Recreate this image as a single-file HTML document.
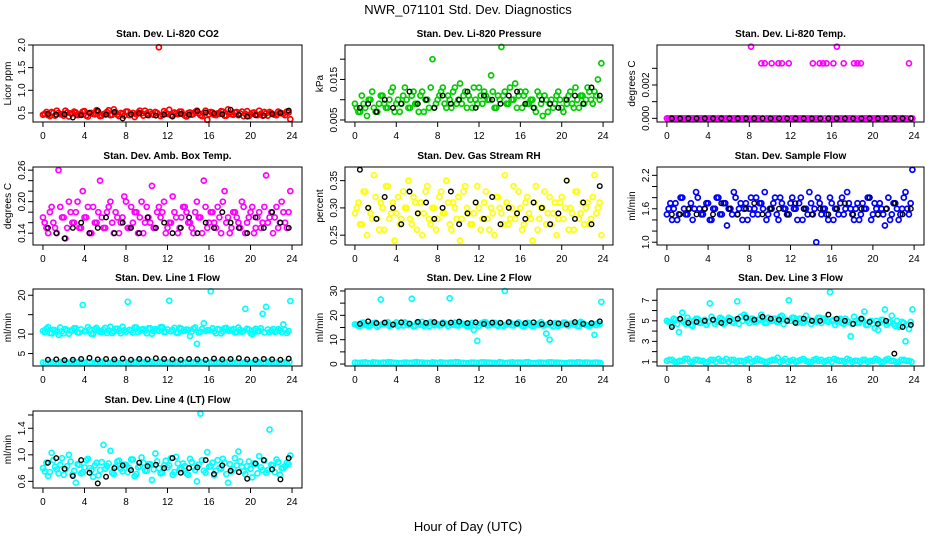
<!DOCTYPE html>
<html><head><meta charset="utf-8"><style>
html,body{margin:0;padding:0;background:#fff;}
svg{display:block;font-family:"Liberation Sans",sans-serif;}
</style></head><body>
<svg id="chart" width="936" height="540" viewBox="0 0 936 540">
<text x="468" y="14" text-anchor="middle" font-size="13">NWR_071101  Std. Dev. Diagnostics</text>
<text x="468" y="531" text-anchor="middle" font-size="13">Hour of Day (UTC)</text>
</svg>
<script>
const xTicks = [0,4,8,12,16,20,24];
const co2Main = [0.48,0.45,0.52,0.44,0.50,0.47,0.55,0.42,0.49,0.51,0.46,0.53,0.44,0.50,0.48,0.56,0.43,0.47,0.52,0.45,0.58,0.46,0.50,0.44,0.53,0.47,0.41,0.51,0.49,0.55,0.45,0.48,0.52,1.95,0.46,0.50,0.57,0.44,0.49,0.53,0.47,0.42,0.51,0.48,0.55,0.45,0.50,0.35,0.52,0.46,0.49,0.54,0.44,0.58,0.47,0.51,0.45,0.53,0.48,0.43,0.50,0.46,0.55,0.44,0.49,0.52,0.47,0.45,0.51,0.48,0.53,0.36];
const co2Band = [0.46,0.52,0.43,0.50,0.55,0.47,0.44,0.51,0.49,0.53,0.45,0.48,0.54,0.42,0.50,0.47,0.52,0.44,0.49,0.56,0.46,0.51,0.43,0.48,0.53,0.45,0.50,0.47,0.55,0.44,0.49,0.52,0.46,0.50,0.43,0.54,0.48,0.45,0.51,0.47,0.53,0.44,0.50,0.46,0.52,0.49,0.43,0.55,0.47,0.51,0.45,0.48,0.53,0.44,0.50,0.46,0.52,0.49,0.43,0.54,0.47,0.51,0.45,0.48,0.52,0.44,0.50,0.46,0.53,0.49,0.45,0.51];
const co2Black = [0.48,0.46,0.47,0.40,0.45,0.50,0.55,0.46,0.52,0.38,0.47,0.49,0.45,0.44,0.46,0.42,0.48,0.46,0.54,0.51,0.49,0.47,0.57,0.46,0.42,0.45,0.44,0.48,0.50,0.55];
const presMain = [0.008,0.007,0.009,0.006,0.010,0.008,0.007,0.011,0.009,0.008,0.012,0.007,0.010,0.009,0.013,0.008,0.011,0.009,0.007,0.012,0.010,0.008,0.020,0.009,0.011,0.013,0.008,0.010,0.012,0.009,0.014,0.011,0.008,0.010,0.013,0.009,0.011,0.012,0.010,0.016,0.008,0.011,0.023,0.012,0.009,0.010,0.014,0.011,0.008,0.012,0.009,0.010,0.007,0.011,0.006,0.010,0.009,0.008,0.011,0.010,0.007,0.009,0.012,0.008,0.010,0.011,0.009,0.013,0.010,0.012,0.015,0.019];
const presBand = [0.009,0.007,0.011,0.008,0.010,0.012,0.007,0.009,0.011,0.008,0.010,0.013,0.009,0.007,0.011,0.010,0.008,0.012,0.009,0.011,0.007,0.010,0.013,0.008,0.010,0.012,0.009,0.011,0.008,0.013,0.010,0.009,0.012,0.011,0.008,0.010,0.013,0.009,0.011,0.010,0.012,0.008,0.010,0.011,0.009,0.013,0.010,0.008,0.012,0.011,0.009,0.010,0.008,0.012,0.009,0.011,0.007,0.010,0.009,0.012,0.008,0.010,0.011,0.009,0.013,0.008,0.011,0.010,0.012,0.009,0.011,0.010];
const presBlack = [0.008,0.009,0.007,0.010,0.008,0.009,0.012,0.009,0.010,0.008,0.011,0.009,0.010,0.012,0.008,0.011,0.010,0.009,0.011,0.012,0.009,0.008,0.010,0.009,0.008,0.010,0.011,0.009,0.013,0.011];
const tempMain = [0,0,0,0,0,0,0,0,0,0,0,0,0,0,0,0,0,0,0,0,0,0,0,0,0.0043,0,0,0.0033,0.0033,0,0.0033,0,0.0033,0.0033,0,0.0033,0,0,0,0,0,0,0.0033,0,0.0033,0.0033,0.0033,0,0.0033,0.0043,0,0.0033,0,0,0.0033,0.0033,0.0033,0,0,0,0,0,0,0,0,0,0,0,0,0,0.0033,0];
const tempBand = [0,0,0,0,0,0,0,0,0,0,0,0,0,0,0,0,0,0,0,0,0,0,0,0,0,0,0,0,0,0,0,0,0,0,0,0,0,0,0,0,0,0,0,0,0,0,0,0,0,0,0,0,0,0,0,0,0,0,0,0,0,0,0,0,0,0,0,0,0,0,0,0];
const tempBlack = [0,0,0,0,0,0,0,0,0,0,0,0,0,0,0,0,0,0,0,0,0,0,0,0,0,0,0,0,0,0];
const ambMain = [0.16,0.14,0.19,0.15,0.26,0.17,0.13,0.20,0.16,0.18,0.15,0.22,0.17,0.14,0.19,0.16,0.24,0.15,0.18,0.20,0.14,0.17,0.16,0.21,0.15,0.19,0.18,0.14,0.20,0.16,0.17,0.23,0.15,0.19,0.18,0.14,0.16,0.21,0.17,0.15,0.19,0.18,0.16,0.14,0.20,0.17,0.24,0.15,0.18,0.16,0.19,0.14,0.22,0.17,0.15,0.18,0.16,0.20,0.14,0.17,0.19,0.15,0.18,0.16,0.25,0.17,0.14,0.19,0.16,0.18,0.15,0.22];
const ambBand = [0.17,0.15,0.18,0.16,0.14,0.19,0.17,0.15,0.18,0.16,0.20,0.15,0.17,0.19,0.14,0.16,0.18,0.17,0.15,0.19,0.16,0.18,0.14,0.17,0.20,0.15,0.16,0.18,0.17,0.14,0.19,0.16,0.15,0.18,0.17,0.20,0.15,0.16,0.18,0.14,0.17,0.19,0.16,0.15,0.18,0.17,0.14,0.19,0.16,0.18,0.15,0.17,0.20,0.16,0.14,0.18,0.17,0.15,0.19,0.16,0.18,0.14,0.17,0.15,0.19,0.16,0.18,0.17,0.15,0.20,0.16,0.18];
const ambBlack = [0.15,0.14,0.13,0.15,0.16,0.14,0.15,0.17,0.14,0.16,0.15,0.14,0.17,0.15,0.16,0.14,0.15,0.17,0.14,0.16,0.15,0.18,0.16,0.15,0.14,0.17,0.15,0.18,0.16,0.15];
const rhMain = [0.30,0.27,0.33,0.25,0.29,0.36,0.28,0.31,0.26,0.34,0.29,0.24,0.32,0.28,0.30,0.35,0.27,0.31,0.29,0.25,0.33,0.28,0.30,0.26,0.32,0.29,0.35,0.27,0.31,0.28,0.24,0.33,0.30,0.27,0.29,0.34,0.26,0.31,0.28,0.30,0.25,0.32,0.29,0.36,0.27,0.30,0.28,0.33,0.26,0.31,0.29,0.24,0.34,0.28,0.30,0.27,0.32,0.29,0.25,0.31,0.28,0.35,0.30,0.26,0.33,0.29,0.27,0.31,0.28,0.36,0.30,0.25];
const rhBand = [0.29,0.31,0.27,0.33,0.30,0.28,0.32,0.26,0.30,0.34,0.28,0.31,0.29,0.27,0.33,0.30,0.28,0.32,0.26,0.31,0.29,0.34,0.27,0.30,0.28,0.33,0.29,0.31,0.26,0.30,0.32,0.28,0.34,0.29,0.27,0.31,0.30,0.28,0.33,0.26,0.29,0.32,0.30,0.27,0.31,0.28,0.34,0.29,0.30,0.27,0.32,0.28,0.31,0.26,0.30,0.33,0.29,0.27,0.31,0.28,0.32,0.30,0.26,0.29,0.33,0.28,0.31,0.30,0.27,0.32,0.29,0.31];
const rhBlack = [0.37,0.30,0.28,0.32,0.30,0.27,0.33,0.29,0.31,0.28,0.30,0.33,0.27,0.29,0.31,0.28,0.32,0.27,0.30,0.29,0.28,0.31,0.30,0.27,0.29,0.35,0.28,0.31,0.27,0.34];
const flowMain = [1.6,1.4,1.7,1.5,1.8,1.5,1.6,1.4,1.9,1.6,1.5,1.7,1.4,1.6,1.8,1.5,1.7,1.3,1.6,1.9,1.5,1.7,1.6,1.4,1.8,1.6,1.5,1.7,1.9,1.5,1.6,1.8,1.4,1.7,1.6,1.5,1.8,1.6,1.7,1.4,1.6,1.9,1.5,1.0,1.7,1.6,1.5,1.8,1.4,1.6,1.7,1.5,1.9,1.6,1.4,1.7,1.5,1.6,1.8,1.4,1.7,1.5,1.6,1.3,1.8,1.5,1.7,1.4,1.6,1.9,1.5,2.3];
const flowBand = [1.5,1.7,1.6,1.4,1.8,1.6,1.5,1.7,1.6,1.8,1.5,1.6,1.7,1.4,1.6,1.8,1.5,1.7,1.6,1.5,1.8,1.6,1.4,1.7,1.6,1.5,1.8,1.7,1.6,1.4,1.6,1.7,1.5,1.8,1.6,1.5,1.7,1.6,1.4,1.8,1.6,1.5,1.7,1.6,1.8,1.5,1.6,1.4,1.7,1.6,1.5,1.8,1.6,1.7,1.5,1.6,1.4,1.7,1.6,1.8,1.5,1.6,1.7,1.5,1.6,1.4,1.7,1.6,1.5,1.8,1.6,1.7];
const flowBlack = [1.5,1.5,1.6,1.5,1.6,1.5,1.7,1.6,1.5,1.6,1.7,1.5,1.6,1.6,1.5,1.7,1.6,1.5,1.6,1.5,1.6,1.7,1.5,1.6,1.8,1.5,1.6,1.7,1.5,1.6];
const l1Main = [10.5,11.8,10.2,11.0,9.8,10.7,11.3,10.1,10.9,11.5,10.4,17.5,10.8,11.2,10.0,11.6,10.6,11.1,10.3,11.9,10.7,11.4,10.2,11.0,18.3,10.9,11.7,10.5,11.2,10.8,11.5,10.1,11.3,10.9,11.8,10.6,18.6,11.1,10.4,11.6,10.8,11.2,9.5,11.4,7.5,10.6,12.8,11.0,21.0,10.7,11.3,10.2,11.5,10.9,11.1,10.4,11.7,10.6,16.5,11.2,10.0,11.4,10.8,15.2,17.0,10.5,11.3,10.7,11.0,12.5,10.3,18.5];
const l1Band = [10.8,11.4,10.3,11.1,10.6,11.7,10.2,11.0,10.9,11.5,10.4,11.2,10.7,11.8,10.1,11.3,10.9,10.5,11.6,11.0,10.3,11.4,10.8,11.9,10.6,11.1,10.4,11.7,10.9,11.3,10.2,11.5,10.8,11.0,11.8,10.5,11.2,10.7,11.6,10.3,11.4,10.9,11.1,10.6,11.7,10.4,11.3,10.8,11.0,11.5,10.2,11.2,10.7,11.6,10.9,11.3,10.5,11.1,10.8,11.4,10.3,11.0,10.7,11.5,10.4,11.2,10.9,10.6,11.3,10.5,11.1,10.8];
const l1Low = [2.6,2.7,2.5,2.8,2.6,2.9,2.7,2.5,2.8,2.6,2.7,2.9,2.6,2.8,2.5,2.7,2.6,2.8,2.9,2.7,2.5,2.6,2.8,2.7,2.6,2.9,2.5,2.7,2.8,2.6,2.7,2.5,2.8,2.6,2.9,2.7,2.6,2.8,2.5,2.7,2.6,2.8,2.7,2.9,2.6,2.5,2.7,2.8];
const l1Low2 = [2.7,2.6,2.8,2.5,2.7,2.6,2.8,2.9,2.6,2.7,2.5,2.8,2.7,2.6,2.9,2.5,2.7,2.6,2.8,2.6,2.7,2.9,2.5,2.8,2.7,2.6,2.8,2.5,2.6,2.7,2.9,2.6,2.5,2.8,2.7,2.6,2.9,2.5,2.7,2.8,2.6,2.7,2.5,2.6,2.8,2.7,2.6,2.5];
const l1Black = [3.4,3.5,3.3,3.4,3.6,3.9,3.5,3.6,3.5,3.7,3.4,3.6,3.5,3.8,3.6,3.5,3.4,3.6,3.5,3.4,3.7,3.5,3.6,3.8,3.5,3.4,3.6,3.5,3.4,3.7];
const l2Main = [16.0,15.5,17.0,16.2,15.8,16.8,15.3,26.5,16.5,17.2,15.9,16.4,15.6,16.9,17.1,16.0,26.8,15.7,16.6,17.3,16.1,15.4,16.7,16.3,15.8,17.0,16.5,27.0,16.2,15.9,16.8,16.4,15.5,16.1,14.0,9.5,16.6,17.2,15.8,16.3,16.9,15.6,16.0,30.0,16.7,15.9,16.4,17.1,15.7,16.2,16.8,15.5,16.3,16.0,15.8,12.5,10.0,15.4,16.6,16.1,17.0,15.9,16.5,16.2,15.6,17.3,16.4,15.8,16.0,12.0,16.7,25.5];
const l2Band = [16.3,15.7,16.9,16.1,15.5,16.6,17.0,15.9,16.4,16.8,15.6,16.2,17.1,16.0,15.8,16.7,16.3,15.4,16.9,16.1,15.7,16.5,17.2,15.9,16.4,16.0,16.8,15.6,16.2,17.0,15.8,16.6,16.3,15.5,16.9,16.1,15.7,16.5,17.1,15.9,16.4,16.0,16.8,15.6,16.2,17.0,15.8,16.6,16.3,15.4,16.9,16.1,15.7,16.5,17.2,15.9,16.4,16.0,16.8,15.6,16.2,17.0,15.8,16.6,16.3,15.5,16.9,16.1,15.7,16.5,16.0,16.4];
const l2Low = [0.5,0.6,0.4,0.7,0.5,0.6,0.8,0.5,0.4,0.6,0.5,0.7,0.6,0.5,0.4,0.6,0.7,0.5,0.6,0.8,0.5,0.4,0.6,0.5,0.7,0.6,0.5,0.4,0.6,0.5,0.7,0.6,0.5,0.8,0.4,0.6,0.5,0.7,0.6,0.5,0.4,0.6,0.5,0.7,0.6,0.5,0.6,0.4];
const l2Low2 = [0.6,0.5,0.7,0.4,0.6,0.5,0.6,0.7,0.5,0.4,0.6,0.5,0.8,0.6,0.5,0.7,0.4,0.6,0.5,0.6,0.7,0.5,0.4,0.6,0.5,0.7,0.6,0.5,0.8,0.4,0.6,0.5,0.6,0.7,0.5,0.4,0.6,0.5,0.7,0.6,0.5,0.4,0.6,0.7,0.5,0.6,0.5,0.6];
const l2Black = [16.5,17.5,16.8,17.0,16.2,17.1,16.6,17.3,16.9,17.2,16.7,17.0,17.4,16.8,17.1,16.5,17.0,16.9,17.2,16.6,16.8,17.1,16.4,17.0,16.7,16.3,17.2,16.5,16.8,17.5];
const l3Main = [4.9,4.6,5.1,3.9,5.8,4.7,5.0,4.5,5.2,4.8,5.0,4.6,6.7,5.1,4.9,5.3,4.7,5.0,5.2,4.8,6.9,5.4,5.6,5.0,5.2,4.9,5.1,5.6,4.8,5.3,5.0,5.2,4.9,5.5,5.1,7.0,5.3,5.0,5.2,4.8,5.5,5.1,5.0,4.9,5.3,5.2,5.0,7.8,5.1,4.9,5.2,4.7,5.0,3.5,5.4,4.8,5.2,5.9,4.6,5.0,4.3,4.1,5.1,6.1,4.8,5.5,4.5,4.4,4.9,3.0,4.2,6.1];
const l3Band = [5.0,4.8,5.2,4.7,5.1,4.9,5.3,4.6,5.0,5.2,4.8,5.1,4.9,5.4,4.7,5.0,5.2,4.8,5.3,4.9,5.1,4.7,5.0,5.4,4.8,5.2,4.9,5.1,5.3,4.8,5.0,5.2,4.9,5.4,4.7,5.1,5.0,5.3,4.8,5.2,4.9,5.1,4.7,5.0,5.3,4.8,5.2,4.9,5.0,4.6,5.1,4.8,5.2,4.9,4.7,5.0,4.8,5.1,4.6,4.9,4.7,5.0,4.8,5.1,4.6,4.9,4.7,5.0,4.5,4.8,4.6,4.9];
const l3Low = [1.2,1.0,1.1,1.3,1.0,1.2,1.1,0.9,1.2,1.0,1.1,1.3,1.2,1.0,1.1,1.2,1.0,1.3,1.1,1.0,1.2,1.4,1.1,1.0,1.2,1.1,1.3,1.0,1.2,1.1,1.0,1.2,1.3,1.1,1.0,1.2,1.1,1.0,1.2,1.1,1.3,1.0,1.2,1.1,1.0,1.2,1.1,1.0];
const l3Low2 = [1.1,1.2,1.0,1.1,1.3,1.0,1.2,1.1,1.0,1.2,1.3,1.1,1.0,1.2,1.1,1.0,1.3,1.1,1.2,1.0,1.1,1.2,1.0,1.3,1.1,1.0,1.2,1.1,1.0,1.3,1.2,1.1,1.0,1.2,1.1,1.3,1.0,1.1,1.2,1.0,1.1,1.2,1.0,1.3,1.1,1.0,1.2,1.1];
const l3Black = [4.4,5.2,4.8,4.9,5.0,5.1,4.8,5.0,5.2,5.3,5.1,5.4,5.2,5.1,5.0,4.8,5.2,5.0,5.0,5.6,5.2,5.0,4.7,5.2,4.9,4.7,5.0,1.8,4.4,4.6];
const l4Main = [0.75,0.68,1.03,0.82,0.72,0.95,0.78,1.00,0.70,0.58,0.85,0.74,0.92,0.80,0.67,0.88,0.77,1.15,0.83,1.06,0.71,0.90,0.79,0.85,0.74,0.93,0.68,0.81,0.96,0.76,0.86,0.62,1.02,0.80,0.73,0.91,0.84,0.70,0.97,0.78,0.87,0.72,0.94,0.81,0.60,1.62,0.76,1.04,0.83,0.69,0.92,0.79,0.88,0.58,0.75,0.95,1.05,0.82,0.71,0.90,0.66,0.86,0.98,0.77,0.73,1.38,0.84,0.93,0.70,0.80,0.88,0.99];
const l4Band = [0.80,0.88,0.74,0.92,0.78,0.85,0.70,0.83,0.90,0.76,0.86,0.72,0.81,0.94,0.77,0.84,0.69,0.89,0.79,0.87,0.73,0.82,0.91,0.75,0.85,0.80,0.93,0.71,0.83,0.88,0.76,0.86,0.78,0.90,0.72,0.84,0.81,0.95,0.74,0.87,0.79,0.83,0.70,0.89,0.77,0.85,0.92,0.73,0.82,0.88,0.76,0.80,0.94,0.71,0.86,0.78,0.84,0.90,0.75,0.83,0.79,0.87,0.72,0.81,0.91,0.77,0.85,0.74,0.89,0.80,0.83,0.86];
const l4Black = [0.88,0.95,0.79,0.68,0.92,0.73,0.57,0.67,0.80,0.84,0.77,0.88,0.83,0.85,0.80,0.95,0.73,0.80,0.81,0.92,0.71,0.84,0.76,0.74,0.64,0.87,0.92,0.78,0.63,0.95];

const NS = "http://www.w3.org/2000/svg";
const svg = document.getElementById('chart');
const colX = [[33,302],[345,613],[657,924]];
const rowY = [[45,122],[167,245],[289,366],[411,488]];
function mk(tag, attrs, parent){const e=document.createElementNS(NS,tag);for(const k in attrs)e.setAttribute(k,attrs[k]);(parent||svg).appendChild(e);return e;}

const panels = [
 {slug:'co2',title:'Stan. Dev. Li-820 CO2',ylab:'Licor ppm',col:'#ff0000',ylim:[0.3,2.0],ticks:[0.5,1.0,1.5,2.0],labels:['0.5','1.0','1.5','2.0'],series:[co2Main,co2Band],black:co2Black},
 {slug:'pressure',title:'Stan. Dev. Li-820 Pressure',ylab:'kPa',col:'#00cc00',ylim:[0.0045,0.0235],ticks:[0.005,0.010,0.015,0.020],labels:['0.005','','0.015',''],series:[presMain,presBand],black:presBlack},
 {slug:'temp',title:'Stan. Dev. Li-820 Temp.',ylab:'degrees C',col:'#ff00ff',ylim:[-0.00022,0.0044],ticks:[0,0.001,0.002,0.003],labels:['0.000','','0.002',''],series:[tempMain,tempBand],black:tempBlack},
 {slug:'amb-box',title:'Stan. Dev. Amb. Box Temp.',ylab:'degrees C',col:'#ff00ff',ylim:[0.1175,0.266],ticks:[0.14,0.16,0.18,0.20,0.22,0.24,0.26],labels:['0.14','','','0.20','','','0.26'],series:[ambMain,ambBand],black:ambBlack},
 {slug:'rh',title:'Stan. Dev. Gas Stream RH',ylab:'percent',col:'#ffff00',ylim:[0.232,0.375],ticks:[0.25,0.30,0.35],labels:['0.25','0.30','0.35'],series:[rhMain,rhBand],black:rhBlack},
 {slug:'sample-flow',title:'Stan. Dev. Sample Flow',ylab:'ml/min',col:'#0000ff',ylim:[0.95,2.35],ticks:[1.0,1.2,1.4,1.6,1.8,2.0,2.2],labels:['1.0','','','1.6','','','2.2'],series:[flowMain,flowBand],black:flowBlack},
 {slug:'line1',title:'Stan. Dev. Line 1 Flow',ylab:'ml/min',col:'#00ffff',ylim:[1.8,21.6],ticks:[5,10,15,20],labels:['5','10','','20'],series:[l1Main,l1Band,l1Low,l1Low2],black:l1Black},
 {slug:'line2',title:'Stan. Dev. Line 2 Flow',ylab:'ml/min',col:'#00ffff',ylim:[-0.8,30.8],ticks:[0,5,10,15,20,25,30],labels:['0','','10','','20','','30'],series:[l2Main,l2Band,l2Low,l2Low2],black:l2Black},
 {slug:'line3',title:'Stan. Dev. Line 3 Flow',ylab:'ml/min',col:'#00ffff',ylim:[0.6,8.1],ticks:[1,2,3,4,5,6,7],labels:['1','','3','','5','','7'],series:[l3Main,l3Band,l3Low,l3Low2],black:l3Black},
 {slug:'line4',title:'Stan. Dev. Line 4 (LT) Flow',ylab:'ml/min',col:'#00ffff',ylim:[0.5,1.66],ticks:[0.6,0.8,1.0,1.2,1.4,1.6],labels:['0.6','','1.0','','1.4',''],series:[l4Main,l4Band],black:l4Black}
];

panels.forEach((p,idx)=>{
  const [x0,x1]=colX[idx%3]; const [y0,y1]=rowY[Math.floor(idx/3)];
  const g=mk('g',{});
  
  
  const xs=v=>x0+(x1-x0)*(v+0.96)/25.92;
  const ys=v=>y1-(y1-y0)*(v-p.ylim[0])/(p.ylim[1]-p.ylim[0]);
  const t=mk('text',{x:(x0+x1)/2,y:y0-8,'text-anchor':'middle','font-size':'10','font-weight':'bold'},g);
  t.textContent=p.title;
  
  
  const yl=mk('text',{x:0,y:0,'text-anchor':'middle','font-size':'10',transform:`translate(${x0-22},${(y0+y1)/2}) rotate(-90)`},g);
  yl.textContent=p.ylab;
  
  
  p.series.forEach((arr,si)=>{
    const off = (si%2===0) ? 0.5 : 0.0;
    arr.forEach((v,i)=>{
      const c=mk('circle',{cx:xs((i+off)*24/arr.length),cy:ys(v),r:2.5,fill:'none',stroke:p.col,'stroke-width':1.7},g);
      
      
    });
  });
  p.black.forEach((v,i)=>{
    const c=mk('circle',{cx:xs((i+0.6)*24/p.black.length),cy:ys(v),r:2.3,fill:'none',stroke:'#000','stroke-width':1.4},g);
    
    
  });
  const box=mk('rect',{x:x0,y:y0,width:x1-x0,height:y1-y0,fill:'none',stroke:'#000','stroke-width':1},g);
  
  
  xTicks.forEach(v=>{
    mk('line',{x1:xs(v),x2:xs(v),y1:y1,y2:y1+5,stroke:'#000'},g);
    const tx=mk('text',{x:xs(v),y:y1+17,'text-anchor':'middle','font-size':'10'},g);
    tx.textContent=v;
    
    
  });
  p.ticks.forEach((v,i)=>{
    mk('line',{x1:x0-5,x2:x0,y1:ys(v),y2:ys(v),stroke:'#000'},g);
    if(p.labels[i]){
      const ty=mk('text',{x:0,y:0,'text-anchor':'middle','font-size':'10',transform:`translate(${x0-8},${ys(v)}) rotate(-90)`},g);
      ty.textContent=p.labels[i];
      
      
    }
  });
});
</script>
</body></html>
